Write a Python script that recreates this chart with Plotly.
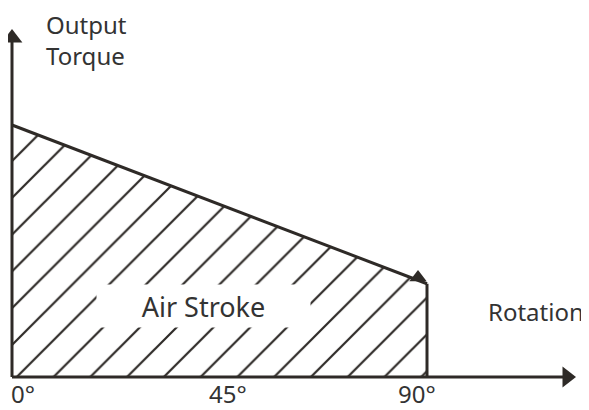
import plotly.graph_objects as go

# ---- data ----
rotation_deg = [0, 90]          # rotation range
output_torque = [100, 37]       # relative output torque at start / end
tick_values = [0, 45, 90]
tick_labels = ["0°", "45°", "90°"]
x_axis_label = "Rotation"
y_axis_label = "Output<br>Torque"
area_label = "Air Stroke"

# ---- layout geometry (page pixels; the page body has an 8px margin) ----
BODY = 8
W, H = 589 - BODY, 410 - BODY
MT = 10                          # top margin (aligns hatch phase)
PX_X0, PX_X90 = 12, 427
PX_Y0, PX_Y100 = 377, 125
sx = (PX_X90 - PX_X0) / 90.0
sy = (PX_Y0 - PX_Y100) / 100.0
x_lo = -(PX_X0 - BODY) / sx
x_range = [x_lo, x_lo + W / sx]
y_hi = (PX_Y0 - (BODY + MT)) / sy
y_range = [y_hi - (H - MT) / sy, y_hi]


def dx(px):
    return (px - PX_X0) / sx


def dy(py):
    return (PX_Y0 - py) / sy


ink = "#2e2a27"
txt = "#333333"
font = "Noto Sans"

fig = go.Figure()

# hatched area under torque line
fig.add_trace(go.Scatter(
    x=[rotation_deg[0]] + rotation_deg + [rotation_deg[-1]],
    y=[0] + output_torque + [0],
    fill="toself", mode="lines", line=dict(width=0),
    fillcolor="rgba(0,0,0,0)",
    fillpattern=dict(shape="/", size=26, solidity=0.085,
                     fgcolor=ink, bgcolor="white", fgopacity=1),
    hoverinfo="skip", showlegend=False))

# torque line and right edge
fig.add_trace(go.Scatter(x=rotation_deg, y=output_torque, mode="lines",
                         line=dict(color=ink, width=3), showlegend=False, hoverinfo="skip"))
fig.add_trace(go.Scatter(x=[rotation_deg[-1], rotation_deg[-1]], y=[0, output_torque[-1]],
                         mode="lines", line=dict(color=ink, width=3), showlegend=False, hoverinfo="skip"))

# axes
x_arrow = dx(567)
y_arrow = dy(38)
fig.add_trace(go.Scatter(x=[0, x_arrow], y=[0, 0], mode="lines",
                         line=dict(color=ink, width=3), showlegend=False, hoverinfo="skip"))
fig.add_trace(go.Scatter(x=[0, 0], y=[0, y_arrow], mode="lines",
                         line=dict(color=ink, width=3), showlegend=False, hoverinfo="skip"))
fig.add_trace(go.Scatter(x=[x_arrow], y=[0], mode="markers", cliponaxis=False,
                         marker=dict(symbol="triangle-right", size=18, color=ink, line=dict(width=0)),
                         showlegend=False, hoverinfo="skip"))
fig.add_trace(go.Scatter(x=[0], y=[y_arrow], mode="markers", cliponaxis=False,
                         marker=dict(symbol="triangle-up", size=18, color=ink, line=dict(width=0)),
                         showlegend=False, hoverinfo="skip"))
# arrowhead at end of torque line
fig.add_trace(go.Scatter(x=[dx(418)], y=[dy(277.5)], mode="markers",
                         marker=dict(symbol="triangle-up", size=15, color=ink, line=dict(width=0)),
                         showlegend=False, hoverinfo="skip"))

ann = []
# tick labels
shifts = [-2, 8, -10]
anchors = ["left", "center", "center"]
for v, t, s, a in zip(tick_values, tick_labels, shifts, anchors):
    ann.append(dict(x=v, y=dy(393.3), text=t, showarrow=False, xanchor=a, yanchor="middle",
                    xshift=s, borderpad=0, font=dict(family=font, size=24, color=txt)))
# axis labels
ann.append(dict(x=dx(45), y=dy(40), text=y_axis_label, showarrow=False, xanchor="left",
                yanchor="middle", align="left", borderpad=0,
                font=dict(family=font, size=24, color=txt)))
ann.append(dict(x=dx(486), y=dy(311), text=x_axis_label, showarrow=False, xanchor="left",
                yanchor="middle", font=dict(family=font, size=24, color=txt)))
# area label on white box
ann.append(dict(x=dx(203.5), y=dy(306), text=area_label, showarrow=False, xanchor="center",
                yanchor="middle", width=213, height=42, bgcolor="white", borderpad=0,
                valign="middle", font=dict(family=font, size=27, color=txt)))

fig.update_layout(
    width=W, height=H, autosize=False,
    margin=dict(l=0, r=0, t=MT, b=0),
    paper_bgcolor="white", plot_bgcolor="white",
    xaxis=dict(range=x_range, visible=False, fixedrange=True),
    yaxis=dict(range=y_range, visible=False, fixedrange=True),
    annotations=ann, showlegend=False,
)

fig.write_html("out.html")
